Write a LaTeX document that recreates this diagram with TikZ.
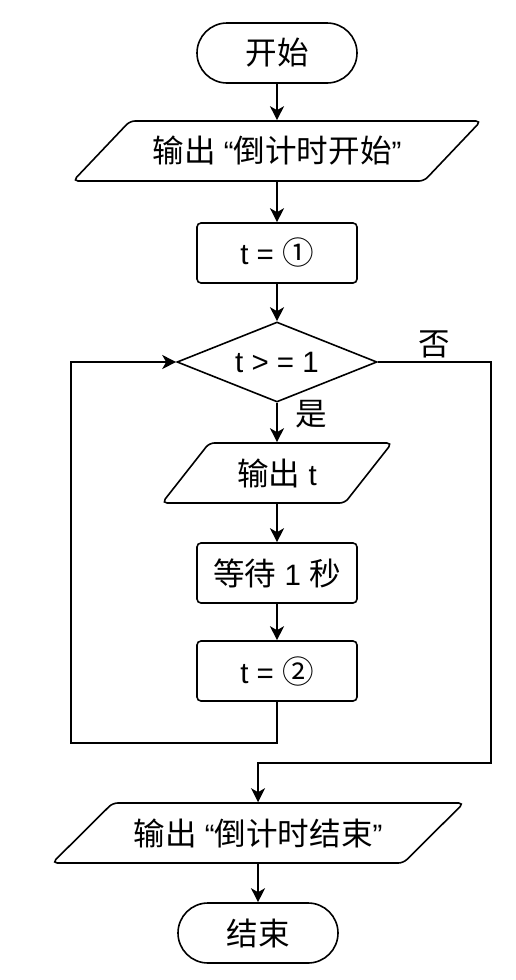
\documentclass[tikz,border=0pt]{standalone}
\usepackage{fontspec}
\setmainfont{Liberation Sans}
\newfontfamily\zhfont[Scale=1.07]{Noto Sans CJK SC}
\newcommand{\zh}[1]{{\zhfont #1}}
\usetikzlibrary{shapes.geometric,arrows.meta}

\begin{document}
\begin{tikzpicture}[x=1pt,y=-1pt,line width=1.6pt,
    font=\fontsize{29.5}{34}\selectfont,
    terminal/.style={draw, rectangle, rounded corners=30pt, minimum width=160pt, minimum height=60pt},
    procbox/.style={draw, rectangle, rounded corners=4pt, minimum width=160pt, minimum height=60pt},
    iobox/.style={draw, trapezium, trapezium stretches=true, rounded corners=5pt, minimum height=60pt},
    decision/.style={draw, diamond, aspect=2.5, minimum width=200pt, minimum height=80pt, inner sep=0pt},
    flow/.style={-{Stealth[length=14pt,width=14pt,inset=4pt]}}]
    \useasboundingbox (0,0) rectangle (516,980);

    % Start and first output
    \node[terminal] (start) at (277,53) {\zh{开始}};
    \node[iobox, trapezium left angle=36, trapezium right angle=144, minimum width=410pt]
        (outbegin) at (277,151) {\zh{输出} “\zh{倒计时开始}”};
    \node[procbox] (init) at (277,253) {t = \zh{①}};

    % Loop
    \node[decision] (check) at (277,362) {t > = 1};
    \node[iobox, trapezium left angle=50, trapezium right angle=130, minimum width=230pt]
        (outt) at (277,473) {\zh{输出} t};
    \node[procbox] (wait) at (277,573) {\zh{等待} 1 \zh{秒}};
    \node[procbox] (step2) at (277,671) {t = \zh{②}};

    % End
    \node[iobox, trapezium left angle=34, trapezium right angle=146, minimum width=412pt]
        (outend) at (258,833) {\zh{输出} “\zh{倒计时结束}”};
    \node[terminal] (stop) at (258,933) {\zh{结束}};

    % Corner points of the two loops
    \coordinate (backlow) at (277,743);
    \coordinate (backleft) at (71,743);
    \coordinate (backup) at (71,362);
    \coordinate (noright) at (491,362);
    \coordinate (nodown) at (491,763);
    \coordinate (noleft) at (258,763);

    % Connectors
    \draw[flow] (start) -- (outbegin);
    \draw[flow] (outbegin) -- (init);
    \draw[flow] (init) -- (check);
    \draw[flow] (check) -- node[right=14pt, pos=0.3] {\zh{是}} (outt);
    \draw[flow] (outt) -- (wait);
    \draw[flow] (wait) -- (step2);
    \draw[flow] (step2.south) -- (backlow) -- (backleft) -- (backup) -- (check.west);
    \draw[flow] (check.east) -- node[above, pos=0.5] {\zh{否}} (noright) -- (nodown) -- (noleft) -- (outend.north);
    \draw[flow] (outend) -- (stop);
\end{tikzpicture}
\end{document}
